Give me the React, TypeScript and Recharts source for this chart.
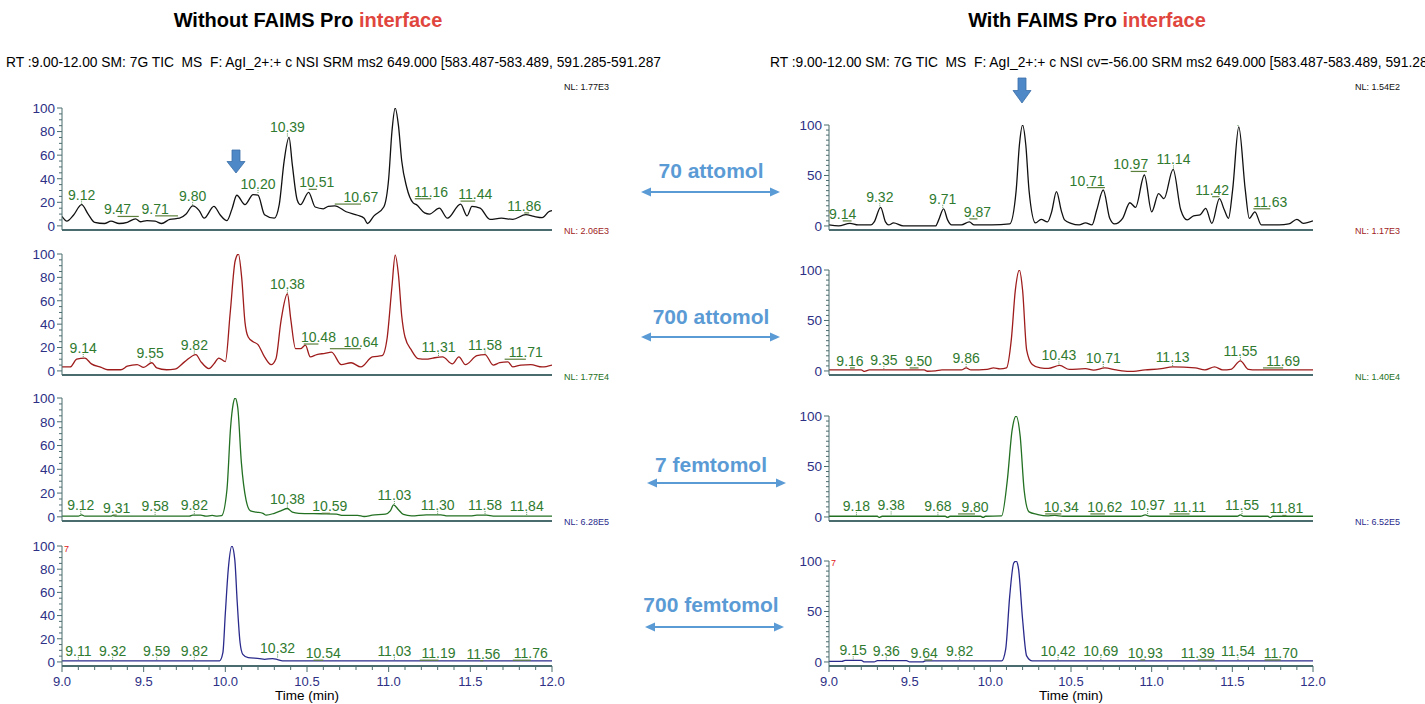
import { ComposedChart, Line, Scatter, XAxis, YAxis } from 'recharts';

type Pt = [number, number];
// peak labels: [retention time, label height (%), where the label sits (min)]
type Peak = [number, number, number];

// traces: [retention time (min), relative abundance (%)]
const left70: Pt[] = [
  [9.0, 8], [9.03, 4], [9.07, 9], [9.12, 18], [9.16, 10], [9.2, 3], [9.26, 2], [9.3, 4], [9.35, 2],
  [9.4, 3], [9.45, 6], [9.48, 3.5], [9.52, 4.5], [9.57, 4], [9.61, 2], [9.66, 5.5], [9.72, 6.5],
  [9.76, 10], [9.8, 17], [9.84, 13], [9.87, 6.5], [9.93, 16.5], [9.97, 9], [10.01, 4.5], [10.04, 14],
  [10.07, 26], [10.12, 18], [10.17, 26.5], [10.2, 26], [10.24, 9.5], [10.3, 6.5], [10.33, 18],
  [10.36, 55], [10.39, 75], [10.41, 52], [10.44, 22], [10.46, 18], [10.51, 28.5], [10.55, 16],
  [10.6, 14.5], [10.63, 16.5], [10.67, 17], [10.74, 12], [10.81, 9], [10.85, 6.5], [10.87, 2],
  [10.91, 8.5], [10.97, 16], [11.0, 40], [11.02, 80], [11.04, 100], [11.06, 85], [11.08, 55],
  [11.11, 33], [11.15, 19.5], [11.17, 18], [11.22, 11], [11.25, 10], [11.31, 15], [11.36, 6.5],
  [11.44, 18.5], [11.48, 8.5], [11.51, 16.5], [11.56, 15], [11.62, 5.5], [11.69, 6.5], [11.76, 5.5],
  [11.84, 9.5], [11.89, 8], [11.94, 7], [11.98, 12], [12.0, 13],
];
const left70Peaks: Peak[] = [
  [9.12, 18, 9.12], [9.47, 8, 9.34], [9.71, 8.5, 9.57], [9.8, 17, 9.8], [10.2, 27, 10.2],
  [10.39, 75, 10.38], [10.51, 31, 10.56], [10.67, 18.5, 10.83], [11.04, 100, 11.04],
  [11.16, 23, 11.26], [11.44, 21, 11.53], [11.86, 11, 11.83],
];

const left700a: Pt[] = [
  [9.0, 3.4], [9.05, 3.4], [9.09, 10], [9.14, 11], [9.18, 6], [9.24, 3], [9.28, 1], [9.36, 1],
  [9.4, 4], [9.46, 5.4], [9.5, 3], [9.55, 7], [9.58, 2.6], [9.64, 1], [9.69, 1.5], [9.75, 7.7],
  [9.82, 14], [9.85, 8], [9.9, 2], [9.93, 6], [9.96, 11], [10.0, 8], [10.03, 50], [10.06, 94],
  [10.08, 100], [10.1, 80], [10.12, 42], [10.14, 29], [10.17, 25], [10.2, 22.5], [10.24, 12],
  [10.28, 5.4], [10.31, 10.5], [10.34, 42], [10.38, 66], [10.4, 45], [10.43, 19], [10.46, 19],
  [10.49, 22], [10.52, 12], [10.56, 14], [10.61, 15], [10.65, 16], [10.71, 5.4], [10.77, 7],
  [10.83, 3.4], [10.9, 12], [10.96, 13], [10.99, 27.5], [11.02, 72], [11.04, 99], [11.06, 82],
  [11.08, 47], [11.1, 29], [11.14, 17.6], [11.18, 10.5], [11.23, 10], [11.27, 11], [11.33, 12],
  [11.39, 6], [11.43, 12], [11.47, 5.4], [11.54, 13], [11.59, 14], [11.64, 5], [11.68, 7],
  [11.73, 7.7], [11.76, 3.4], [11.81, 5], [11.87, 5.4], [11.94, 3.4], [12.0, 5],
];
const left700aPeaks: Peak[] = [
  [9.14, 11, 9.13], [9.55, 7, 9.54], [9.82, 14, 9.81], [10.08, 100, 10.075], [10.38, 66, 10.38],
  [10.48, 23, 10.57], [10.64, 19, 10.83], [11.04, 100, 11.04], [11.31, 12, 11.305],
  [11.58, 14, 11.59], [11.71, 10, 11.84],
];

const left7f: Pt[] = [
  [9.0, 0.6], [9.1, 0.6], [9.12, 1.7], [9.14, 0.6], [9.3, 0.6], [9.31, 1], [9.33, 0.6], [9.78, 0.6],
  [9.8, 1.4], [9.85, 1.4], [9.88, 0.6], [9.92, 1.2], [9.95, 0.6], [9.977, 1], [10.01, 23],
  [10.032, 75], [10.048, 95], [10.06, 100], [10.076, 92], [10.098, 46], [10.127, 14], [10.154, 5],
  [10.19, 4], [10.23, 3], [10.25, 1.4], [10.3, 3], [10.34, 5], [10.38, 7], [10.41, 4], [10.45, 3],
  [10.59, 2.6], [10.68, 2.3], [10.72, 1.2], [10.81, 1.2], [10.85, 0.3], [10.9, 1.4], [10.98, 2.3],
  [11.01, 5], [11.03, 10], [11.06, 6], [11.09, 2], [11.14, 0.8], [11.23, 1.7], [11.32, 1.7],
  [11.36, 0.8], [11.5, 0.8], [11.54, 1.4], [11.6, 1.4], [11.64, 0.6], [12.0, 0.6],
];
const left7fPeaks: Peak[] = [
  [9.12, 1.7, 9.115], [9.31, 1.5, 9.335], [9.58, 0.8, 9.57], [9.82, 1.4, 9.81], [10.06, 100, 10.06],
  [10.38, 7, 10.38], [10.59, 3, 10.64], [11.03, 10, 11.035], [11.3, 1.7, 11.3], [11.58, 1.4, 11.59],
  [11.84, 0.8, 11.845],
];

const left700f: Pt[] = [
  [9.0, 1], [9.95, 1], [9.965, 1], [9.985, 8], [10.0, 42], [10.018, 80], [10.04, 100], [10.058, 88],
  [10.073, 51], [10.09, 17], [10.107, 6.6], [10.14, 3.7], [10.21, 2.9], [10.24, 2.3], [10.29, 2.9],
  [10.32, 2], [10.35, 1], [12.0, 1],
];
const left700fPeaks: Peak[] = [
  [9.11, 1, 9.1], [9.32, 1, 9.31], [9.59, 1, 9.58], [9.82, 1, 9.81], [10.04, 100, 10.04],
  [10.32, 3, 10.32], [10.54, 1.5, 10.6], [11.03, 1, 11.035], [11.19, 1.5, 11.305], [11.56, 1, 11.58],
  [11.76, 1.5, 11.87],
];

const right70: Pt[] = [
  [9.0, 1], [9.06, 0], [9.13, 2.6], [9.18, 1], [9.26, 1], [9.28, 4], [9.32, 18.5], [9.35, 4],
  [9.37, 1], [9.4, 3], [9.46, 0], [9.66, 0], [9.68, 6], [9.71, 17], [9.735, 6], [9.76, 1],
  [9.82, 1], [9.87, 4], [9.9, 1], [10.01, 1], [10.12, 2], [10.16, 35], [10.18, 80], [10.2, 100],
  [10.22, 80], [10.24, 35], [10.28, 3], [10.315, 6.6], [10.354, 4], [10.38, 14], [10.41, 34],
  [10.44, 15], [10.46, 6], [10.5, 2.6], [10.55, 1], [10.59, 3], [10.63, 1], [10.66, 16],
  [10.7, 35.6], [10.74, 7.6], [10.77, 2], [10.82, 7.6], [10.865, 23], [10.9, 18.5], [10.955, 50.5],
  [11.0, 14], [11.043, 32], [11.076, 27], [11.133, 56], [11.18, 16], [11.22, 6], [11.26, 10],
  [11.3, 11], [11.335, 17.5], [11.373, 2.6], [11.42, 27], [11.45, 16], [11.476, 7.6], [11.502, 36],
  [11.54, 98], [11.58, 36], [11.605, 7.6], [11.64, 14], [11.68, 1], [11.79, 1], [11.85, 2],
  [11.9, 6.6], [11.94, 2.6], [12.0, 5],
];
const right70Peaks: Peak[] = [
  [9.14, 5, 9.085], [9.32, 18.5, 9.315], [9.71, 17, 9.705], [9.87, 7, 9.92], [10.2, 100, 10.195],
  [10.71, 38, 10.6], [10.97, 54, 10.87], [11.14, 56, 11.135], [11.42, 29, 11.375],
  [11.54, 98, 11.535], [11.63, 17, 11.735],
];

const right700a: Pt[] = [
  [9.0, 1], [9.2, 1], [9.22, -0.5], [9.25, 1], [9.59, 1], [9.61, -0.3], [9.66, 0], [9.7, 1],
  [9.82, 1], [9.85, 3], [9.88, 1], [9.98, 1.5], [10.02, 3], [10.06, 2], [10.1, 3], [10.13, 31],
  [10.155, 80], [10.18, 100], [10.2, 80], [10.225, 21], [10.26, 6.5], [10.31, 3], [10.36, 2.5],
  [10.43, 5.5], [10.49, 1.5], [10.59, 2.3], [10.64, 0.8], [10.71, 3], [10.78, 1], [10.86, -0.5],
  [10.96, 1], [11.06, 2.3], [11.13, 4], [11.27, 3], [11.33, 1], [11.39, 4], [11.44, 1], [11.49, 1.5],
  [11.55, 10], [11.6, 1.5], [11.65, 1], [12.0, 1],
];
const right700aPeaks: Peak[] = [
  [9.16, 3, 9.13], [9.35, 1, 9.34], [9.5, 3, 9.555], [9.86, 3, 9.85], [10.18, 100, 10.17],
  [10.43, 5.5, 10.425], [10.71, 3, 10.7], [11.13, 4, 11.13], [11.55, 10, 11.55], [11.69, 3, 11.815],
];

const right7f: Pt[] = [
  [9.0, 0.7], [9.3, 0.7], [9.31, -0.5], [9.33, 0.7], [9.72, 0.7], [9.735, -0.5], [9.75, 0.7],
  [9.94, 0.7], [9.955, -0.5], [9.97, 0.7], [10.07, 1], [10.105, 36], [10.135, 86], [10.16, 100],
  [10.185, 80], [10.21, 26], [10.24, 5], [10.29, 2.6], [10.35, 1], [10.4, 1.5], [10.45, 0.7],
  [10.93, 0.7], [10.96, 2], [10.99, 0.7], [11.53, 0.7], [11.55, 2], [11.57, 0.7], [11.72, 0.7],
  [11.735, -0.6], [11.75, 0.7], [12.0, 0.7],
];
const right7fPeaks: Peak[] = [
  [9.18, 0.7, 9.17], [9.38, 1.5, 9.385], [9.68, 0.7, 9.675], [9.8, 3, 9.905], [10.16, 100, 10.165],
  [10.34, 3, 10.44], [10.62, 3, 10.71], [10.97, 2, 10.975], [11.11, 3, 11.235], [11.55, 2, 11.56],
  [11.81, 1.5, 11.835],
];

const right700f: Pt[] = [
  [9.0, 0.5], [9.08, 0.5], [9.1, 1.6], [9.2, 1.6], [9.22, 0], [9.28, 0], [9.3, 1.3], [9.48, 1.3],
  [9.5, 0], [9.58, 0], [9.6, 1], [10.07, 1], [10.095, 12.5], [10.12, 65], [10.145, 98], [10.16, 100],
  [10.175, 92], [10.2, 42], [10.225, 6], [10.26, 1], [12.0, 1],
];
const right700fPeaks: Peak[] = [
  [9.15, 1.6, 9.15], [9.36, 1.3, 9.355], [9.64, 2, 9.59], [9.82, 1, 9.81], [10.16, 100, 10.16],
  [10.42, 1, 10.42], [10.69, 1, 10.685], [10.93, 2, 10.96], [11.39, 2, 11.285], [11.54, 1, 11.535],
  [11.7, 2, 11.8],
];

const yTicks = [0, 5, 10, 15, 20, 25, 30, 35, 40, 45, 50, 55, 60, 65, 70, 75, 80, 85, 90, 95, 100];
const leftYLabels = [0, 20, 40, 60, 80, 100];
const rightYLabels = [0, 50, 100];
const xTicks = [
  9.0, 9.1, 9.2, 9.3, 9.4, 9.5, 9.6, 9.7, 9.8, 9.9, 10.0, 10.1, 10.2, 10.3, 10.4, 10.5, 10.6, 10.7,
  10.8, 10.9, 11.0, 11.1, 11.2, 11.3, 11.4, 11.5, 11.6, 11.7, 11.8, 11.9, 12.0,
];
const xLabels = [9.0, 9.5, 10.0, 10.5, 11.0, 11.5, 12.0];

const leftNL = ['NL: 1.77E3', 'NL: 2.06E3', 'NL: 1.77E4', 'NL: 6.28E5'];
const rightNL = ['NL: 1.54E2', 'NL: 1.17E3', 'NL: 1.40E4', 'NL: 6.52E5'];
const amounts = ['70 attomol', '700 attomol', '7 femtomol', '700 femtomol'];

const FONT = '"Liberation Sans", Arial, Helvetica, sans-serif';
const AXIS = '#4b6c6e';
const TICK_TEXT = '#2d3085';
const LABEL = '#2f7a2f';
const LEADER = '#5c7f3c';
const BLUE = '#5b9bd5';
const traceColors = ['#111111', '#9e1c1c', '#237023', '#2a2a8c'];

function YTick(props: any) {
  const { x, y, payload, majors } = props;
  const major = majors.includes(payload.value);
  return (
    <g>
      <line x1={x - (major ? 5 : 3)} x2={x} y1={y} y2={y} stroke={AXIS} strokeWidth={1} />
      {major && (
        <text x={x - 7} y={y} dy={4.8} textAnchor="end" fontSize={13.5} fill={TICK_TEXT} fontFamily={FONT}>
          {payload.value}
        </text>
      )}
    </g>
  );
}

function XTick(props: any) {
  const { x, y, payload } = props;
  const major = xLabels.includes(payload.value);
  return (
    <g>
      <line x1={x} x2={x} y1={y} y2={y + (major ? 6 : 4)} stroke={AXIS} strokeWidth={1} />
      {major && (
        <text x={x} y={y + 20} textAnchor="middle" fontSize={13} fill={TICK_TEXT} fontFamily={FONT}>
          {payload.value.toFixed(1)}
        </text>
      )}
    </g>
  );
}

function makePeakLabel(pxPerMin: number) {
  return function PeakLabel(props: any) {
    const { cx, cy, payload } = props;
    const lead = (payload.rt - payload.t) * pxPerMin;
    const shifted = Math.abs(lead) > 2;
    return (
      <g>
        {shifted ? (
          <line x1={cx} x2={cx + lead} y1={cy} y2={cy} stroke={LEADER} strokeWidth={1.2} />
        ) : (
          <line x1={cx} x2={cx} y1={cy - 1} y2={cy - 4} stroke={LABEL} strokeWidth={0.8} strokeDasharray="1 1" />
        )}
        <text x={cx} y={cy - (shifted ? 2 : 5)} textAnchor="middle" fontSize={14} fill={LABEL} fontFamily={FONT}>
          {payload.rt.toFixed(2)}
        </text>
      </g>
    );
  };
}

interface PanelProps {
  trace: Pt[];
  peaks: Peak[];
  color: string;
  x0: number;
  x1: number;
  top: number;
  zero: number;
  yMin: number;
  majors: number[];
  bottom?: boolean;
}

function Panel({ trace, peaks, color, x0, x1, top, zero, yMin, majors, bottom }: PanelProps) {
  const unit = (zero - top) / 100;
  const plotH = Math.round(unit * (100 - yMin));
  const xh = bottom ? 30 : 1;
  const mt = 24;
  const ml = 4;
  const mr = 24;
  const mb = 2;
  const yw = 44;
  const width = ml + yw + (x1 - x0) + mr;
  const height = mt + plotH + xh + mb;
  const lineData = trace.map(([t, y]) => ({ t, y }));
  const peakData = peaks.map(([rt, y, t]) => ({ t, y, rt }));
  const shape = makePeakLabel((x1 - x0) / 3);
  return (
    <div style={{ position: 'absolute', left: x0 - yw - ml, top: top - mt }}>
      <ComposedChart width={width} height={height} margin={{ top: mt, right: mr, bottom: mb, left: ml }}>
        <XAxis
          dataKey="t"
          type="number"
          domain={[9, 12]}
          allowDataOverflow
          ticks={bottom ? xTicks : []}
          interval={0}
          height={xh}
          tickSize={0}
          tickMargin={0}
          tick={bottom ? (p: any) => <XTick {...p} /> : false}
          axisLine={{ stroke: AXIS, strokeWidth: 2.2 }}
        />
        <YAxis
          type="number"
          domain={[yMin, 100]}
          allowDataOverflow
          ticks={yTicks}
          interval={0}
          width={yw}
          tickSize={0}
          tickMargin={0}
          tick={(p: any) => <YTick {...p} majors={majors} />}
          axisLine={{ stroke: AXIS }}
        />
        <Line
          data={lineData}
          dataKey="y"
          type="monotone"
          stroke={color}
          strokeWidth={1.3}
          dot={false}
          isAnimationActive={false}
        />
        <Scatter data={peakData} dataKey="y" shape={shape} isAnimationActive={false} />
      </ComposedChart>
    </div>
  );
}

function DoubleArrow({ x1, x2, y }: { x1: number; x2: number; y: number }) {
  return (
    <g>
      <line x1={x1 + 8} x2={x2 - 8} y1={y} y2={y} stroke={BLUE} strokeWidth={1.8} />
      <polygon points={`${x1},${y} ${x1 + 10},${y - 4.5} ${x1 + 10},${y + 4.5}`} fill={BLUE} />
      <polygon points={`${x2},${y} ${x2 - 10},${y - 4.5} ${x2 - 10},${y + 4.5}`} fill={BLUE} />
    </g>
  );
}

function DownArrow({ x, y, h }: { x: number; y: number; h: number }) {
  const sw = 4;
  const hw = 9;
  const sh = h * 0.5;
  const pts = [
    [x - sw, y], [x + sw, y], [x + sw, y + sh], [x + hw, y + sh], [x, y + h], [x - hw, y + sh], [x - sw, y + sh],
  ].map((p) => p.join(',')).join(' ');
  return <polygon points={pts} fill="#4f88c6" stroke="#3b6fa8" strokeWidth={0.8} />;
}

const leftPanels = [
  { trace: left70, peaks: left70Peaks, top: 108, zero: 226 },
  { trace: left700a, peaks: left700aPeaks, top: 254, zero: 371 },
  { trace: left7f, peaks: left7fPeaks, top: 398, zero: 517 },
  { trace: left700f, peaks: left700fPeaks, top: 546, zero: 662 },
];
const rightPanels = [
  { trace: right70, peaks: right70Peaks, top: 125, zero: 226 },
  { trace: right700a, peaks: right700aPeaks, top: 270, zero: 371 },
  { trace: right7f, peaks: right7fPeaks, top: 416, zero: 517 },
  { trace: right700f, peaks: right700fPeaks, top: 561, zero: 662 },
];
const nlTops = [88, 232, 378, 523];
const amountTops = [171, 317, 465, 605];
const arrowRows = [
  { x1: 641, x2: 780, y: 192 },
  { x1: 641, x2: 780, y: 337 },
  { x1: 647, x2: 786, y: 483 },
  { x1: 645, x2: 784, y: 627 },
];

export default function App() {
  return (
    <div
      style={{
        position: 'absolute',
        left: 0,
        top: 0,
        width: 1425,
        height: 704,
        overflow: 'hidden',
        background: '#fff',
        fontFamily: FONT,
      }}
    >
      <div style={{ position: 'absolute', left: 0, width: 616, top: 9, textAlign: 'center', fontSize: 20, fontWeight: 700 }}>
        Without FAIMS Pro <span style={{ color: '#e0463d' }}>interface</span>
      </div>
      <div style={{ position: 'absolute', left: 787, width: 600, top: 9, textAlign: 'center', fontSize: 20, fontWeight: 700 }}>
        With FAIMS Pro <span style={{ color: '#e0463d' }}>interface</span>
      </div>
      <div style={{ position: 'absolute', left: 6, top: 55, width: 656, overflow: 'hidden', whiteSpace: 'pre', fontSize: 13.8 }}>
        {'RT :9.00-12.00 SM: 7G TIC  MS  F: AgI_2+:+ c NSI SRM ms2 649.000 [583.487-583.489, 591.285-591.287'}
      </div>
      <div style={{ position: 'absolute', left: 770, top: 55, whiteSpace: 'pre', fontSize: 13.8 }}>
        {'RT :9.00-12.00 SM: 7G TIC  MS  F: AgI_2+:+ c NSI cv=-56.00 SRM ms2 649.000 [583.487-583.489, 591.285-591.287'}
      </div>

      {leftPanels.map((p, i) => (
        <Panel
          key={`l${i}`}
          trace={p.trace}
          peaks={p.peaks}
          color={traceColors[i]}
          x0={62}
          x1={552}
          top={p.top}
          zero={p.zero}
          yMin={-3.5}
          majors={leftYLabels}
          bottom={i === 3}
        />
      ))}
      {rightPanels.map((p, i) => (
        <Panel
          key={`r${i}`}
          trace={p.trace}
          peaks={p.peaks}
          color={traceColors[i]}
          x0={829}
          x1={1313}
          top={p.top}
          zero={p.zero}
          yMin={-4}
          majors={rightYLabels}
          bottom={i === 3}
        />
      ))}

      {leftNL.map((t, i) => (
        <div key={`nl${i}`} style={{ position: 'absolute', left: 564, top: nlTops[i] - 6, fontSize: 9, color: traceColors[i] }}>
          {t}
        </div>
      ))}
      {rightNL.map((t, i) => (
        <div key={`nr${i}`} style={{ position: 'absolute', left: 1355, top: nlTops[i] - 6, fontSize: 9, color: traceColors[i] }}>
          {t}
        </div>
      ))}

      {amounts.map((t, i) => (
        <div
          key={`a${i}`}
          style={{
            position: 'absolute',
            left: 611,
            width: 200,
            top: amountTops[i] - 12,
            textAlign: 'center',
            fontSize: 21,
            fontWeight: 700,
            color: BLUE,
            lineHeight: '24px',
          }}
        >
          {t}
        </div>
      ))}

      <div style={{ position: 'absolute', left: 64, top: 544, fontSize: 9, color: '#e02020' }}>7</div>
      <div style={{ position: 'absolute', left: 831, top: 558, fontSize: 9, color: '#e02020' }}>7</div>

      <div style={{ position: 'absolute', left: 207, width: 200, top: 688, textAlign: 'center', fontSize: 13.5 }}>
        Time (min)
      </div>
      <div style={{ position: 'absolute', left: 971, width: 200, top: 688, textAlign: 'center', fontSize: 13.5 }}>
        Time (min)
      </div>

      <svg width={1425} height={704} style={{ position: 'absolute', left: 0, top: 0, pointerEvents: 'none' }}>
        {arrowRows.map((a, i) => (
          <DoubleArrow key={`da${i}`} x1={a.x1} x2={a.x2} y={a.y} />
        ))}
        <DownArrow x={236} y={150} h={23} />
        <DownArrow x={1022} y={78} h={25} />
      </svg>
    </div>
  );
}
